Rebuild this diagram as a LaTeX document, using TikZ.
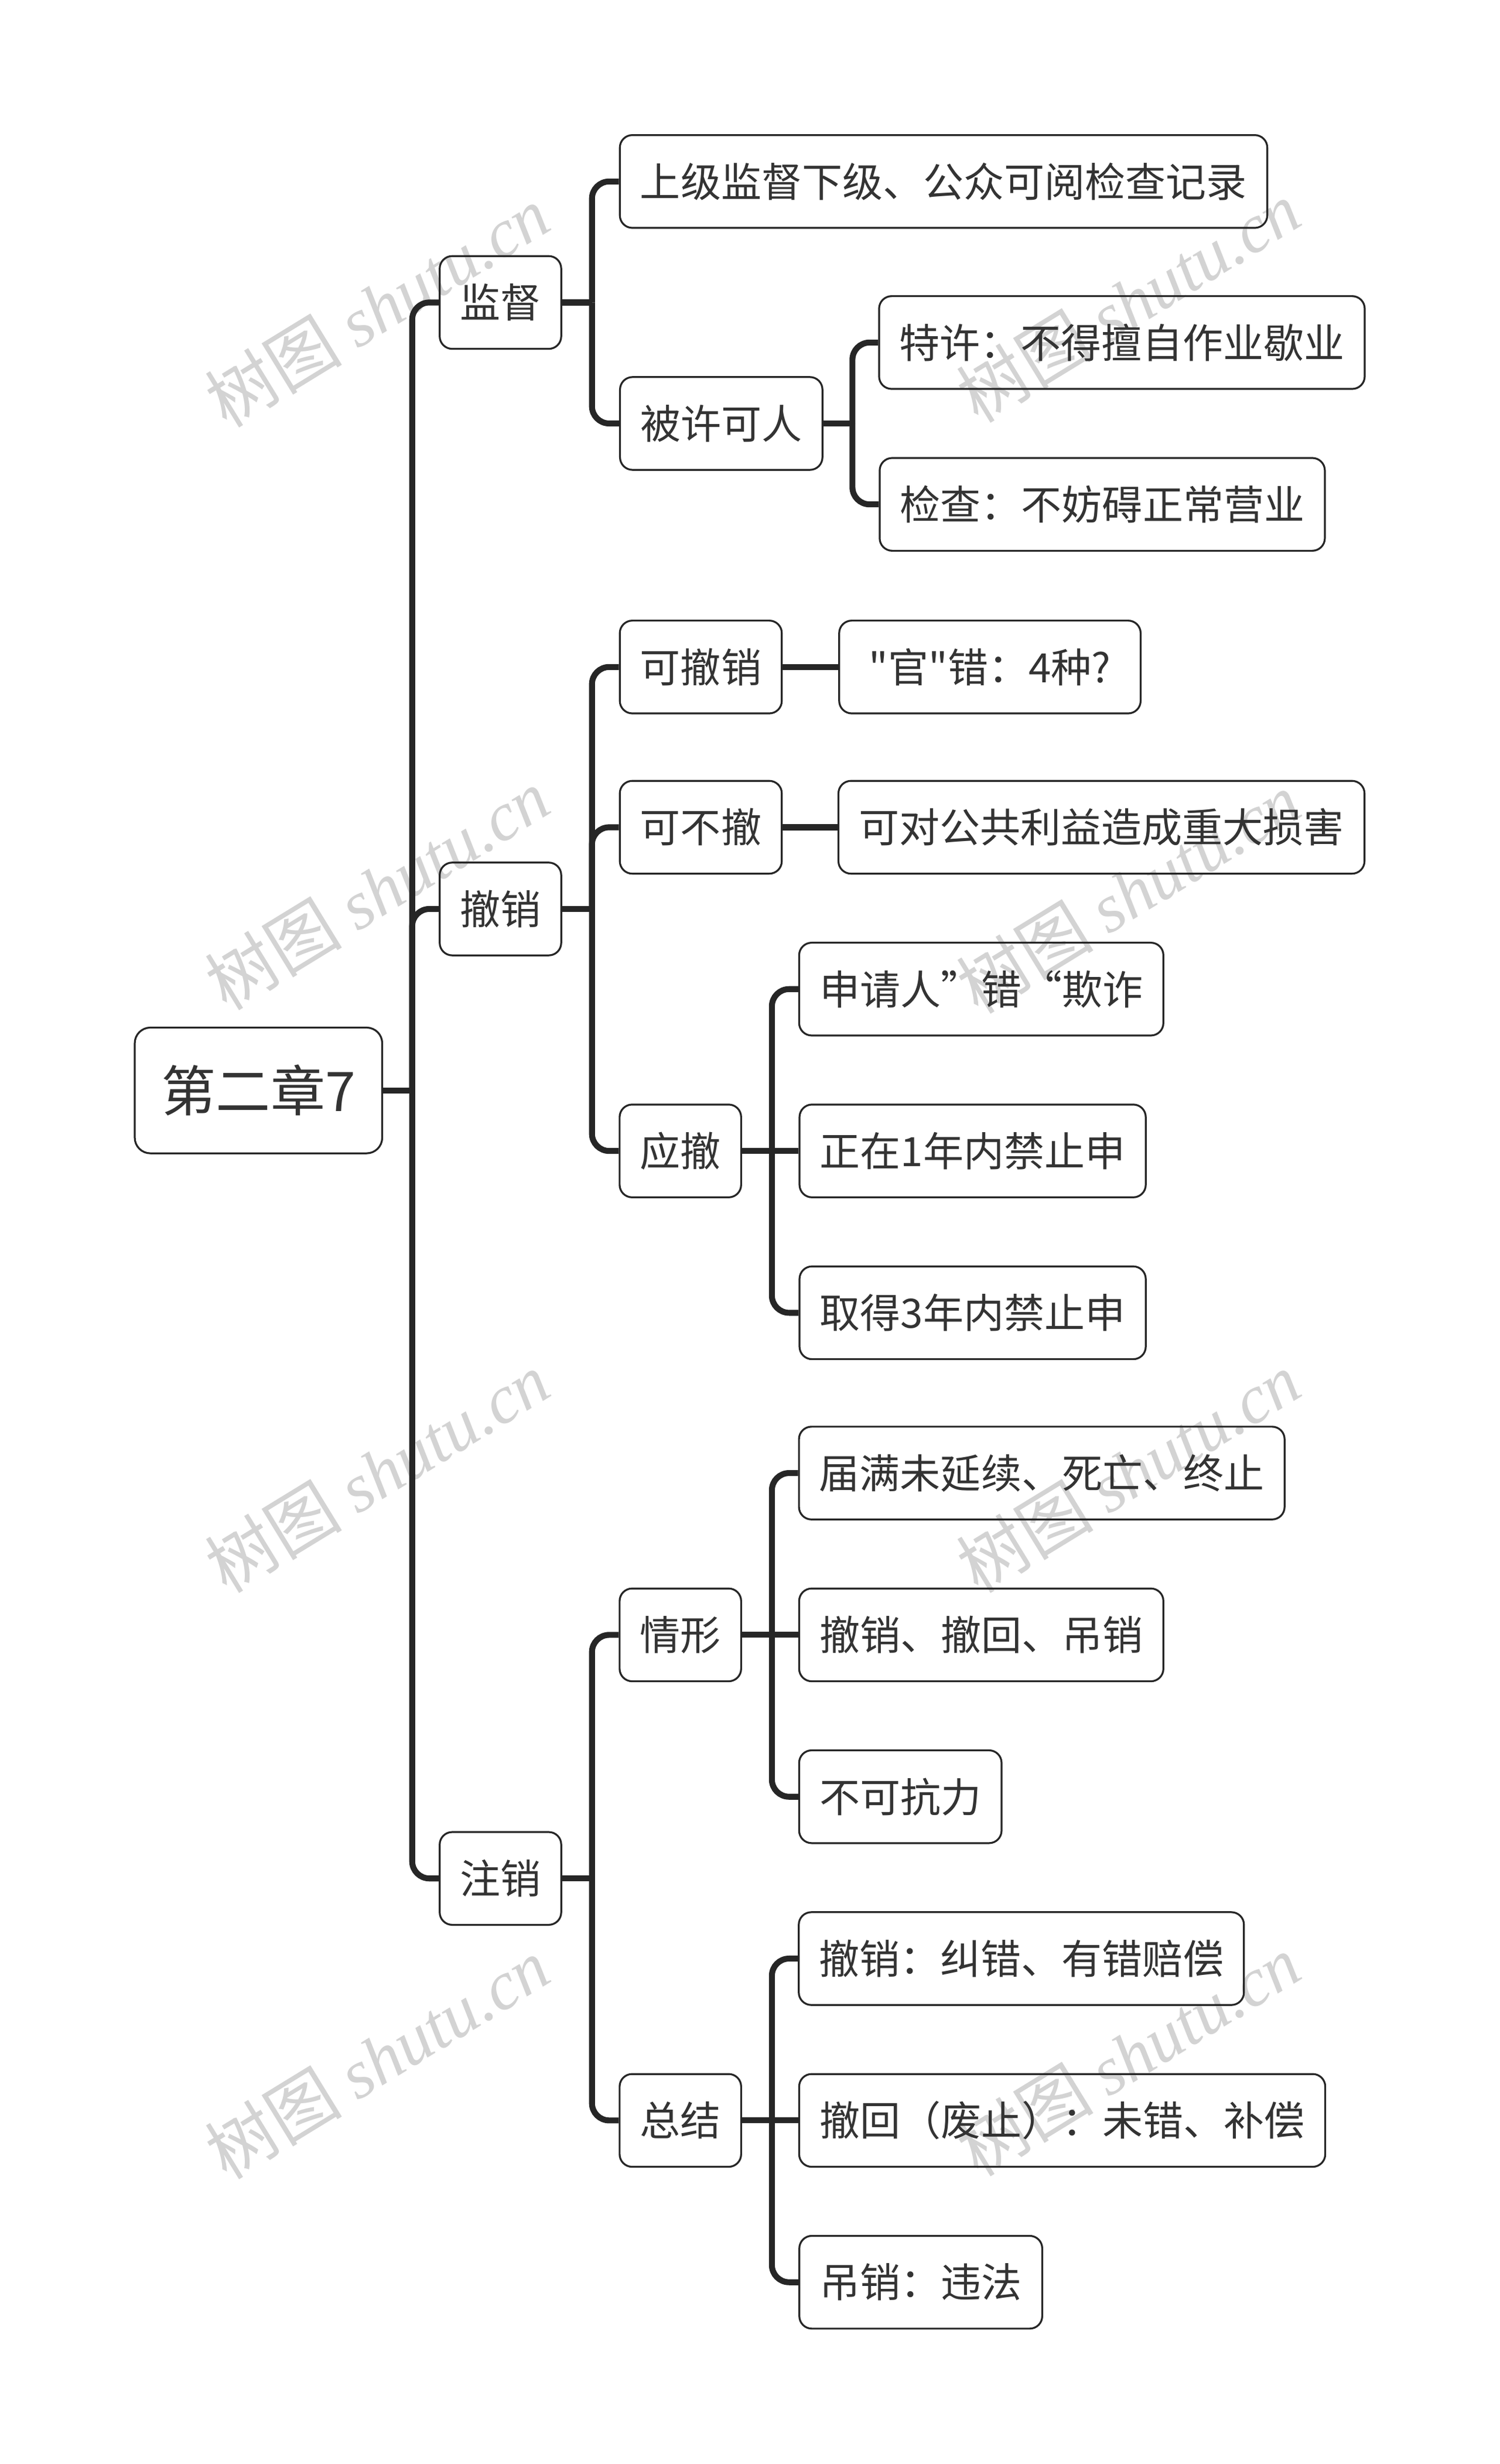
\documentclass[tikz,border=0pt]{standalone}
\usepackage{fontspec}
\setmainfont{Noto Sans CJK SC}[Ligatures=TeXOff]
\newfontfamily\wmcjk{Noto Sans CJK SC}
\newfontfamily\wmlat{Liberation Serif}
\definecolor{linec}{HTML}{262626}
\definecolor{textc}{HTML}{333333}
\definecolor{wmc}{HTML}{D3D3D3}
\begin{document}
\begin{tikzpicture}[x=1.006bp,y=-1.006bp,
  box/.style={draw=linec, line width=1.2bp, rounded corners=8bp, minimum height=59.4bp,
    inner xsep=13bp, inner ysep=0pt, text=textc, font=\fontsize{25.9bp}{30bp}\selectfont},
  rootbox/.style={box, rounded corners=10bp, minimum height=80.5bp, inner xsep=17bp,
    font=\fontsize{35bp}{40bp}\selectfont},
  conn/.style={draw=linec, line width=3.8bp, rounded corners=11bp},
  stub/.style={draw=linec, line width=3.8bp},
  wm/.style={text=wmc, rotate=31.5, inner sep=0pt, font=\fontsize{44bp}{48bp}\selectfont}]
\useasboundingbox (0,0) rectangle (954.27,1568.19);
\fill[white] (0,0) rectangle (954.27,1568.19);

% watermarks
\node[wm] (w1) at (240,195) {{\wmcjk 树图} {\wmlat\itshape shutu.cn}};
\node[wm] (w2) at (240,566) {{\wmcjk 树图} {\wmlat\itshape shutu.cn}};
\node[wm] (w3) at (240,937) {{\wmcjk 树图} {\wmlat\itshape shutu.cn}};
\node[wm] (w4) at (240,1310) {{\wmcjk 树图} {\wmlat\itshape shutu.cn}};
\node[wm] (w5) at (718,192) {{\wmcjk 树图} {\wmlat\itshape shutu.cn}};
\node[wm] (w6) at (718,568) {{\wmcjk 树图} {\wmlat\itshape shutu.cn}};
\node[wm] (w7) at (718,937) {{\wmcjk 树图} {\wmlat\itshape shutu.cn}};
\node[wm] (w8) at (718,1308) {{\wmcjk 树图} {\wmlat\itshape shutu.cn}};

% nodes
\node[rootbox, minimum width=158bp] (root) at (164.5,694) {第二章7};

\node[box, minimum width=77.5bp] (jd) at (318.5,192.5) {监督};
\node[box, minimum width=77.5bp] (cx) at (318.5,578.5) {撤销};
\node[box, minimum width=77.5bp] (zx) at (318.5,1195.5) {注销};

\node[box, minimum width=413bp] (a1) at (600.5,115.5) {上级监督下级、公众可阅检查记录};
\node[box, minimum width=129bp] (a2) at (459,269.5) {被许可人};
\node[box, minimum width=310bp] (b1) at (714,218) {特许：不得擅自作业歇业};
\node[box, minimum width=285bp] (b2) at (701.5,321) {检查：不妨碍正常营业};

\node[box, minimum width=103bp] (c1) at (446,424.5) {可撤销};
\node[box, minimum width=193bp] (c1r) at (630,424.5) {"官"错：4种?};
\node[box, minimum width=103bp] (c2) at (446,526.5) {可不撤};
\node[box, minimum width=336bp] (c2r) at (701,526.5) {可对公共利益造成重大损害};
\node[box, minimum width=76.5bp] (c3) at (433,732.5) {应撤};
\node[box, minimum width=232bp] (d1) at (624.5,629.5) {申请人”错“欺诈};
\node[box, minimum width=221bp] (d2) at (619,732.5) {正在1年内禁止申};
\node[box, minimum width=221bp] (d3) at (619,835.5) {取得3年内禁止申};

\node[box, minimum width=76.5bp] (e) at (433,1040.5) {情形};
\node[box, minimum width=310bp] (e1) at (663,937.5) {届满未延续、死亡、终止};
\node[box, minimum width=232bp] (e2) at (624.5,1040.5) {撤销、撤回、吊销};
\node[box, minimum width=129bp] (e3) at (573,1143.5) {不可抗力};
\node[box, minimum width=76.5bp] (f) at (433,1349.5) {总结};
\node[box, minimum width=284bp] (f1) at (650,1246.5) {撤销：纠错、有错赔偿};
\node[box, minimum width=336bp] (f2) at (676,1349.5) {撤回（废止）：未错、补偿};
\node[box, minimum width=155bp] (f3) at (586,1452.5) {吊销：违法};

% junction points
\coordinate (rootJ) at ([xshift=18.6bp]root.east);
\coordinate (jdJ) at ([xshift=19.1bp]jd.east);
\coordinate (cxJ) at ([xshift=19.1bp]cx.east);
\coordinate (zxJ) at ([xshift=19.1bp]zx.east);
\coordinate (a2J) at ([xshift=18.6bp]a2.east);
\coordinate (c3J) at ([xshift=19.1bp]c3.east);
\coordinate (eJ) at ([xshift=19.1bp]e.east);
\coordinate (fJ) at ([xshift=19.1bp]f.east);

% connectors
\draw[stub] (root.east) -- (rootJ);
\draw[conn] (rootJ) |- (jd.west);
\draw[conn] (rootJ) |- (cx.west);
\draw[conn] (rootJ) |- (zx.west);

\draw[stub] (jd.east) -- (jdJ);
\draw[conn] (jdJ) |- (a1.west);
\draw[conn] (jdJ) |- (a2.west);

\draw[stub] (a2.east) -- (a2J);
\draw[conn] (a2J) |- (b1.west);
\draw[conn] (a2J) |- (b2.west);

\draw[stub] (cx.east) -- (cxJ);
\draw[conn] (cxJ) |- (c1.west);
\draw[conn] (cxJ) |- (c2.west);
\draw[conn] (cxJ) |- (c3.west);

\draw[stub] (c1.east) -- (c1r.west);
\draw[stub] (c2.east) -- (c2r.west);

\draw[stub] (c3.east) -- (c3J);
\draw[conn] (c3J) |- (d1.west);
\draw[stub] (c3J) -- (d2.west);
\draw[conn] (c3J) |- (d3.west);

\draw[stub] (zx.east) -- (zxJ);
\draw[conn] (zxJ) |- (e.west);
\draw[conn] (zxJ) |- (f.west);

\draw[stub] (e.east) -- (eJ);
\draw[conn] (eJ) |- (e1.west);
\draw[stub] (eJ) -- (e2.west);
\draw[conn] (eJ) |- (e3.west);

\draw[stub] (f.east) -- (fJ);
\draw[conn] (fJ) |- (f1.west);
\draw[stub] (fJ) -- (f2.west);
\draw[conn] (fJ) |- (f3.west);
\end{tikzpicture}
\end{document}
